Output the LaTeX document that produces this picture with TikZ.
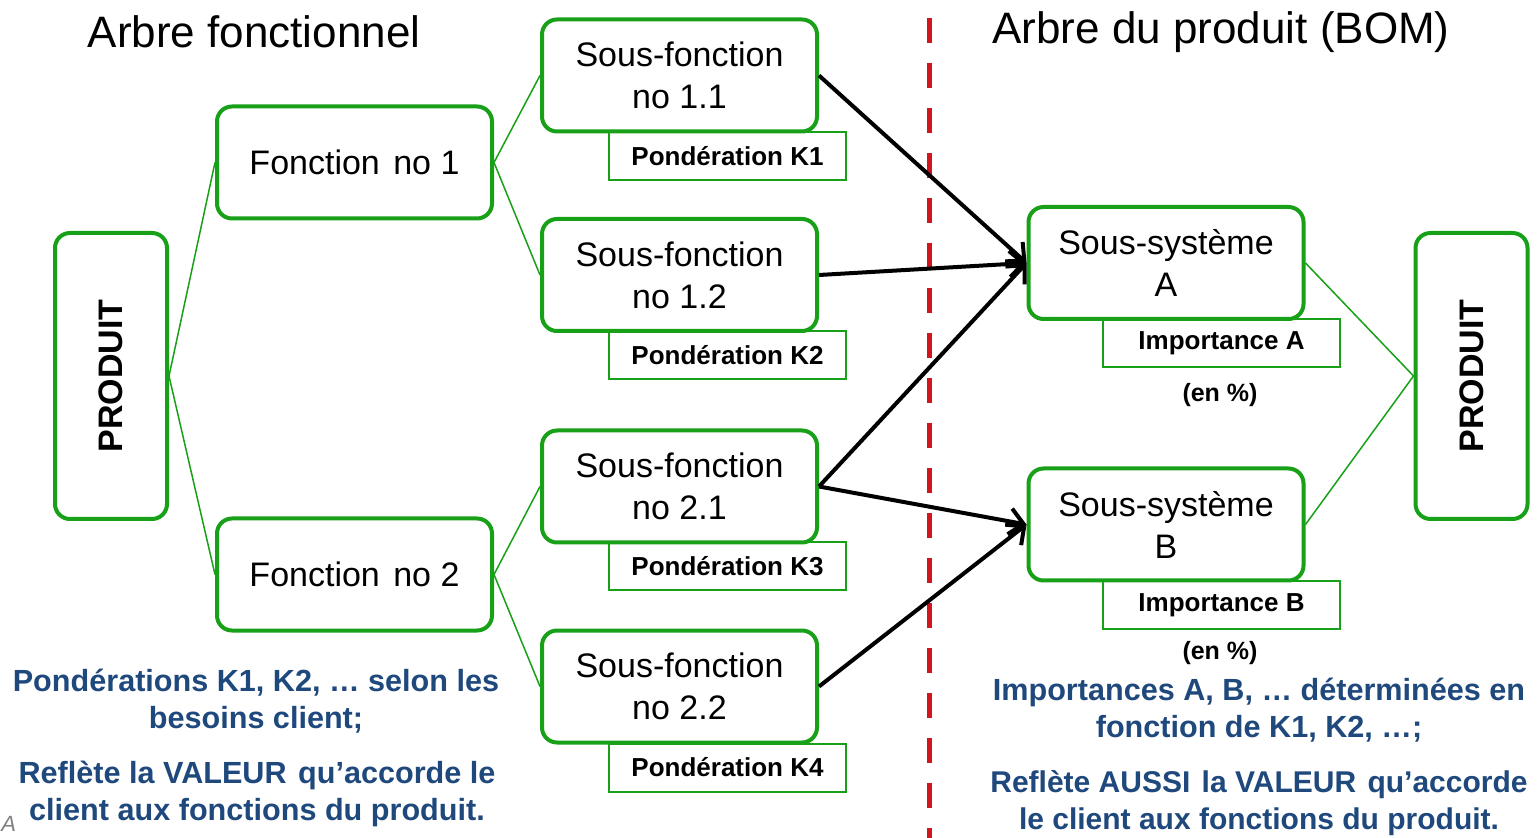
\documentclass[tikz,border=0pt]{standalone}
\usepackage{fontspec}
\setmainfont{Liberation Sans}
\usetikzlibrary{arrows.meta}
\definecolor{gr}{RGB}{24,160,24}
\definecolor{rd}{RGB}{210,20,30}
\definecolor{bl}{RGB}{31,73,125}
\begin{document}
\begin{tikzpicture}[x=0.5pt,y=-0.5pt,
  box/.style={draw=gr,line width=2pt,rounded corners=7.5pt,minimum width=137.5pt,minimum height=56pt,align=center,font=\fontsize{17}{21}\selectfont,inner sep=0pt},
  tag/.style={draw=gr,line width=1pt,minimum width=118.5pt,minimum height=24pt,inner sep=0pt,font=\bfseries\fontsize{13}{15}\selectfont},
  prod/.style={draw=gr,line width=2pt,rounded corners=7.5pt,minimum width=143pt,minimum height=56pt,rotate=90,font=\bfseries\fontsize{17}{20}\selectfont,inner sep=0pt},
  link/.style={draw=gr,line width=0.75pt},
  arr/.style={draw=black,line width=2pt,-{Straight Barb[length=7pt,width=13pt,line width=2pt]}},
  note/.style={text=bl,font=\bfseries\fontsize{15.3}{18.5}\selectfont,align=center,inner sep=0pt},
  pct/.style={font=\bfseries\fontsize{12.5}{15}\selectfont,inner sep=0pt},
  ttl/.style={font=\fontsize{22}{26}\selectfont,inner sep=0pt}]
\useasboundingbox (0,0) rectangle (1540,838);
\fill[white] (0,0) rectangle (1540,838);

% titles
\node[ttl] (t1) at (254,32) {Arbre fonctionnel};
\node[ttl] (t2) at (1221,32) {Arbre du produit (BOM)};

% red separator
\draw[rd,line width=2.5pt,dash pattern=on 12.5pt off 10pt] (929,18) -- (929,838);

% tags (drawn before boxes)
\node[tag] (k1) at (727.5,156) {Pondération K1};
\node[tag] (k2) at (727.5,355.5) {Pondération K2};
\node[tag] (k3) at (727.5,566) {Pondération K3};
\node[tag] (k4) at (727.5,767.5) {Pondération K4};
\node[tag] (ia) at (1221.5,343.5) {Importance A};
\node[tag] (ib) at (1221.5,605) {Importance B};
\node[pct] (pa) at (1220,395) {(en \%)};
\node[pct] (pb) at (1220,653) {(en \%)};

% boxes
\node[prod] (pl) at (111,376) {PRODUIT};
\node[prod] (pr) at (1471.5,376) {PRODUIT};
\node[box] (f1) at (354.5,162.5) {Fonction\hspace{2pt} no 1};
\node[box] (f2) at (354.5,574.5) {Fonction\hspace{2pt} no 2};
\node[box] (s11) at (679.5,75.5) {Sous-fonction\\no 1.1};
\node[box] (s12) at (679.5,275) {Sous-fonction\\no 1.2};
\node[box] (s21) at (679.5,486.5) {Sous-fonction\\no 2.1};
\node[box] (s22) at (679.5,686.5) {Sous-fonction\\no 2.2};
\node[box] (sa) at (1166,263) {Sous-système\\A};
\node[box] (sb) at (1166,524.5) {Sous-système\\B};

% green links
\draw[link] (pl.south) -- (f1.west);
\draw[link] (pl.south) -- (f2.west);
\draw[link] (f1.east) -- (s11.west);
\draw[link] (f1.east) -- (s12.west);
\draw[link] (f2.east) -- (s21.west);
\draw[link] (f2.east) -- (s22.west);
\draw[link] (sa.east) -- (pr.north);
\draw[link] (sb.east) -- (pr.north);

% black arrows
\draw[arr] (s11.east) -- (sa.west);
\draw[arr] (s12.east) -- (sa.west);
\draw[arr] (s21.east) -- (sa.west);
\draw[arr] (s21.east) -- (sb.west);
\draw[arr] (s22.east) -- (sb.west);

% notes
\node[note] (n1) at (256,701) {Pondérations K1, K2, … selon les\\besoins client;};
\node[note] (n2) at (257,794) {Reflète la VALEUR\hspace{1.5pt} qu’accorde le\\client aux fonctions du produit.};
\node[note] (n3) at (1259,710) {Importances A, B, … déterminées en\\fonction de K1, K2, …;};
\node[note,font=\bfseries\fontsize{15}{18.5}\selectfont] (n4) at (1259,803) {Reflète AUSSI\hspace{1.5pt} la VALEUR\hspace{1.5pt} qu’accorde\\le client aux fonctions du produit.};

\node[text=gray,font=\itshape\fontsize{11}{12}\selectfont,inner sep=0pt,anchor=west] (aa) at (1,824) {A};
\end{tikzpicture}
\end{document}
